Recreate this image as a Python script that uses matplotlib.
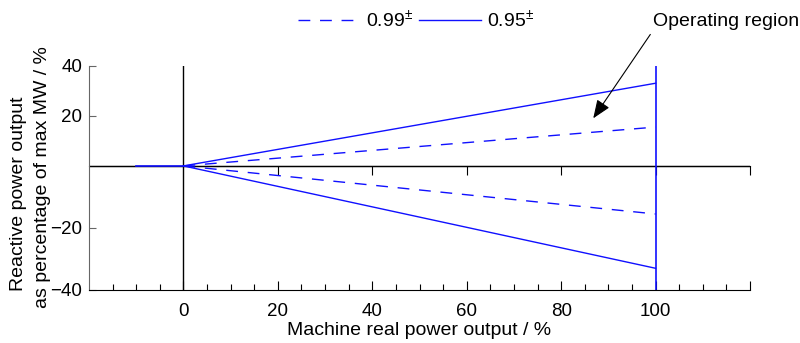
import numpy as np
import matplotlib
matplotlib.use("Agg")
import matplotlib.pyplot as plt

plt.rcParams["font.family"] = ["Liberation Sans", "DejaVu Sans"]
plt.rcParams["mathtext.fontset"] = "custom"
plt.rcParams["mathtext.rm"] = "Liberation Sans"
plt.rcParams["mathtext.it"] = "Liberation Sans"
plt.rcParams["lines.scale_dashes"] = False

# data
p_lead = [-10, 0]          # flat stub before the fan
q_lead = [0, 0]
p_fan = [0, 100]
q_099 = [0, 15.5]          # 0.99 power factor boundary
q_095 = [0, 33]            # 0.95 power factor boundary
p_max = 100
x_ticks = [0, 20, 40, 60, 80, 100, 120]
x_labels = ["0", "20", "40", "60", "80", "100", ""]
y_ticks = [-40, -20, 20, 40]
y_labels = ["\u221240", "\u221220", "20", "40"]

# the upper half of the y axis is drawn a bit compressed in the original
k = 50.15 / 62.1


def fwd(y):
    y = np.asarray(y, dtype=float)
    return np.where(y >= 0, y * k, y)


def inv(t):
    t = np.asarray(t, dtype=float)
    return np.where(t >= 0, t / k, t)


blue = "#1010ff"
fs = 13.5
fl = 14

fig = plt.figure(figsize=(8, 3.43), dpi=100)
ax = fig.add_axes([89 / 800, 1 - 290 / 343, (750 - 89) / 800, (290 - 65.7) / 343])
ax.set_yscale("function", functions=(fwd, inv))
ax.set_xlim(-20, 120)
ax.set_ylim(-40, 40)

ax.axhline(0, color="k", lw=1)
ax.axvline(0, color="k", lw=1)
ax.plot(p_lead, q_lead, color=blue, lw=1.2)
l99, = ax.plot(p_fan, q_099, color=blue, lw=1, dashes=(8.5, 7), label="0.99$^{\\pm}$")
ax.plot(p_fan, [-v for v in q_099], color=blue, lw=1, dashes=(8.5, 7))
l95, = ax.plot(p_fan, q_095, color=blue, lw=1, label="0.95$^{\\pm}$")
ax.plot(p_fan, [-v for v in q_095], color=blue, lw=1)
ax.axvline(p_max, color=blue, lw=1.2)

for s in ["top", "right"]:
    ax.spines[s].set_visible(False)
ax.spines["left"].set_color("#666666")

ax.set_xticks(x_ticks)
ax.set_xticklabels(x_labels, fontsize=fs)
ax.set_xticks(np.arange(-15, 120, 5), minor=True)
ax.set_yticks(y_ticks)
ax.set_yticklabels(y_labels, fontsize=fs)
ax.yaxis.set_minor_locator(matplotlib.ticker.NullLocator())
ax.tick_params(axis="x", which="major", direction="in", length=6.5, width=0.8, pad=9)
ax.tick_params(axis="x", which="minor", direction="in", length=4, width=0.8)
ax.tick_params(axis="y", direction="in", length=5, width=0.8, pad=5, color="#666666")

# ticks along the q = 0 line
loc0 = (fwd(0) - fwd(-40)) / (fwd(40) - fwd(-40))
sec = ax.secondary_xaxis(float(loc0))
sec.set_xticks(x_ticks[1:])
sec.set_xticklabels([])
sec.tick_params(direction="in", length=6.5, width=0.8)
sec.spines["bottom"].set_visible(False)
sec.xaxis.set_minor_locator(matplotlib.ticker.NullLocator())

ax.set_xlabel("Machine real power output / %", fontsize=fl, labelpad=2)

# the two y-label lines sit slightly offset from each other
fig.text(19 / 800, 1 - 193.5 / 343, "Reactive power output", rotation=90,
         ha="center", va="center", fontsize=fl)
fig.text(42.5 / 800, 1 - 177 / 343, "as percentage of max MW / %", rotation=90,
         ha="center", va="center", fontsize=fl)

ax.annotate("Operating region", xy=(86.8, 19.0), xycoords="data",
            xytext=(653 / 800, 1 - 22 / 343), textcoords="figure fraction",
            ha="left", va="center", fontsize=fl,
            arrowprops=dict(arrowstyle="-|>,head_length=0.75,head_width=0.3", color="k",
                            lw=0.8, mutation_scale=15, relpos=(0.0, 0.0),
                            shrinkA=1, shrinkB=0))

fig.legend(handles=[l99, l95], loc="center", bbox_to_anchor=(0.52, 1 - 20 / 343),
           ncol=2, frameon=False, fontsize=fl, handlelength=3.2, handletextpad=0.3,
           columnspacing=0.3)

fig.savefig("out.png", dpi=100)
